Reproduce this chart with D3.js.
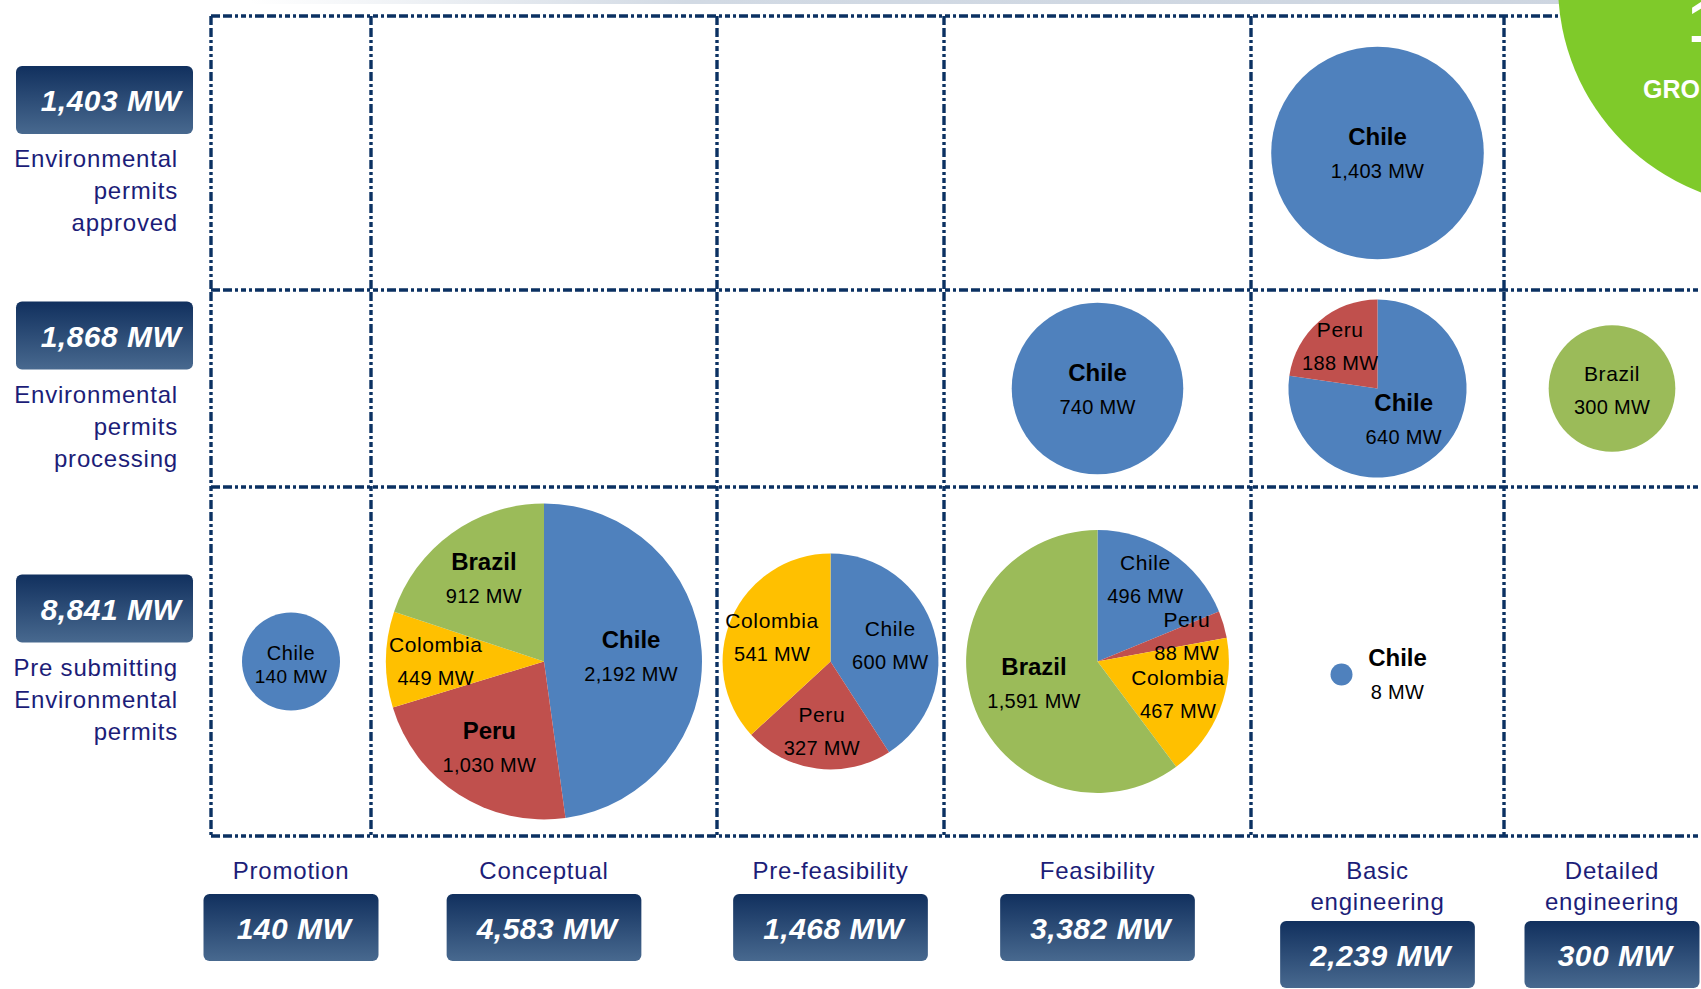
<!DOCTYPE html>
<html>
<head>
<meta charset="utf-8">
<script src="https://cdn.jsdelivr.net/npm/d3@7"></script>
<style>
  html, body { margin: 0; padding: 0; background: #fff; overflow: hidden; }
  svg { display: block; font-family: "Liberation Sans", Arial, sans-serif; }
</style>
</head>
<body>
<svg id="chart" width="1701" height="989"></svg>
<script>
// --- data ---
const stages = ['Promotion', 'Conceptual', 'Pre-feasibility', 'Feasibility', 'Basic engineering', 'Detailed engineering'];
const stageLines = [['Promotion'], ['Conceptual'], ['Pre-feasibility'], ['Feasibility'], ['Basic', 'engineering'], ['Detailed', 'engineering']];
const stageTotals = [140, 4583, 1468, 3382, 2239, 300];

const permitRows = ['approved', 'processing', 'pre submitting'];
const permitLines = [['Environmental', 'permits', 'approved'], ['Environmental', 'permits', 'processing'], ['Pre submitting', 'Environmental', 'permits']];
const permitTotals = [1403, 1868, 8841];

const countries = ['Chile', 'Peru', 'Colombia', 'Brazil'];
// MW per country: one row per permit status, one column per stage
const chileMW    = [[0, 0, 0, 0, 1403, 0], [0, 0, 0, 740, 640, 0], [140, 2192, 600, 496, 8, 0]];
const peruMW     = [[0, 0, 0, 0, 0, 0],    [0, 0, 0, 0, 188, 0],   [0, 1030, 327, 88, 0, 0]];
const colombiaMW = [[0, 0, 0, 0, 0, 0],    [0, 0, 0, 0, 0, 0],     [0, 449, 541, 467, 0, 0]];
const brazilMW   = [[0, 0, 0, 0, 0, 0],    [0, 0, 0, 0, 0, 300],   [0, 912, 0, 1591, 0, 0]];

// labels drawn in bold (row-col-country)
const boldLabels = new Set(['0-4-Chile', '1-3-Chile', '1-4-Chile', '2-1-Brazil', '2-1-Peru', '2-1-Chile', '2-3-Brazil', '2-4-Chile']);

// --- layout ---
const W = 1701, H = 989;
const colEdges = [211, 371, 717, 944, 1251, 1504, 1720];
const rowEdges = [16, 290, 487, 836];
const navy = '#1c1d78';

const svg = d3.select('#chart');

const x = d3.scaleOrdinal().domain(stages)
    .range(stages.map((s, i) => (colEdges[i] + colEdges[i + 1]) / 2));
const y = d3.scaleOrdinal().domain(permitRows)
    .range(permitRows.map((s, i) => (rowEdges[i] + rowEdges[i + 1]) / 2));
const radius = d3.scalePow().exponent(1 / 3).domain([8, 140, 4583]).range([11, 49, 158]);
const color = d3.scaleOrdinal().domain(countries).range(['#4f81bd', '#c0504d', '#ffc000', '#9bbb59']);
const fmt = d3.format(',');

// --- gradients ---
const defs = svg.append('defs');
const boxGrad = defs.append('linearGradient').attr('id', 'boxGrad')
    .attr('x1', 0).attr('y1', 0).attr('x2', 0).attr('y2', 1);
boxGrad.append('stop').attr('offset', '0%').attr('stop-color', '#11305e');
boxGrad.append('stop').attr('offset', '100%').attr('stop-color', '#48698f');

const barGrad = defs.append('linearGradient').attr('id', 'barGrad');
barGrad.append('stop').attr('offset', '0%').attr('stop-color', '#ffffff');
barGrad.append('stop').attr('offset', '30%').attr('stop-color', '#d2dae4');
barGrad.append('stop').attr('offset', '100%').attr('stop-color', '#cdd5e0');

svg.append('rect').attr('x', 250).attr('y', 0).attr('width', W - 250).attr('height', 4)
    .attr('fill', 'url(#barGrad)');

// --- grid ---
const grid = svg.append('g')
    .attr('stroke', '#0b3162').attr('stroke-width', 3.4)
    .attr('stroke-dasharray', '9,3,9,3,3,3,5,3,3,3');

grid.selectAll('line.h').data(rowEdges).join('line').attr('class', 'h')
    .attr('x1', colEdges[0]).attr('x2', colEdges[colEdges.length - 1])
    .attr('y1', d => d).attr('y2', d => d);

grid.selectAll('line.v').data(colEdges.slice(0, -1)).join('line').attr('class', 'v')
    .attr('x1', d => d).attr('x2', d => d)
    .attr('y1', rowEdges[0]).attr('y2', rowEdges[rowEdges.length - 1]);

// --- pies ---
const series = [chileMW, peruMW, colombiaMW, brazilMW];
const cells = [];
permitRows.forEach((row, ri) => stages.forEach((stage, ci) => {
    const slices = countries.map((c, k) => ({ country: c, value: series[k][ri][ci], key: `${ri}-${ci}-${c}` }))
        .filter(d => d.value > 0);
    if (slices.length) cells.push({ row, stage, slices, total: d3.sum(slices, d => d.value) });
}));

const pie = d3.pie().sort(null).value(d => d.value);

cells.forEach(cell => {
    const R = radius(cell.total);
    const tiny = R < 20;
    const cx = x(cell.stage) + (tiny ? -36 : 0);
    const cy = y(cell.row) + (tiny ? 13 : 0);
    const g = svg.append('g').attr('transform', `translate(${cx},${cy})`);

    const arc = d3.arc().innerRadius(0).outerRadius(R);
    const arcs = pie(cell.slices);

    g.selectAll('path').data(arcs).join('path')
        .attr('d', arc)
        .attr('fill', d => color(d.data.country));

    // label anchors: narrow slices push their label further out
    arcs.forEach(a => {
        if (tiny) { a.lx = R + 45; a.ly = -1; return; }
        if (arcs.length === 1) { a.lx = 0; a.ly = 0; return; }
        const share = a.data.value / cell.total;
        const lr = R * (0.72 - 0.35 * share);
        [a.lx, a.ly] = d3.arc().innerRadius(lr).outerRadius(lr).centroid(a);
    });
    // keep stacked labels apart
    const byY = arcs.slice().sort((p, q) => q.ly - p.ly);
    for (let i = 1; i < byY.length; i++) {
        for (let j = 0; j < i; j++) {
            const lo = byY[j], up = byY[i];
            if (Math.abs(lo.lx - up.lx) < 85 && lo.ly - up.ly < 57) up.ly = lo.ly - 57;
        }
    }

    const small = R < 55;
    const labels = g.selectAll('g.lbl').data(arcs).join('g').attr('class', 'lbl')
        .attr('transform', d => `translate(${d.lx},${d.ly})`);

    labels.append('text')
        .attr('text-anchor', 'middle')
        .attr('y', small && !tiny ? -2 : -8)
        .style('font-size', d => boldLabels.has(d.data.key) ? '24px' : (small && !tiny ? '20px' : '21px'))
        .style('font-weight', d => boldLabels.has(d.data.key) ? 'bold' : 'normal')
        .style('letter-spacing', d => boldLabels.has(d.data.key) ? '0px' : '0.6px')
        .attr('fill', '#000')
        .text(d => d.data.country);

    labels.append('text')
        .attr('text-anchor', 'middle')
        .attr('y', small && !tiny ? 21 : 25)
        .style('font-size', small && !tiny ? '19px' : '20px')
        .style('letter-spacing', '0.3px')
        .attr('fill', '#000')
        .text(d => `${fmt(d.data.value)} MW`);
});

// --- row headers (left) ---
const rowG = svg.selectAll('g.rowhead').data(permitRows).join('g').attr('class', 'rowhead')
    .attr('transform', d => `translate(0,${y(d)})`);

rowG.append('rect')
    .attr('x', 16).attr('y', -87).attr('width', 177).attr('height', 68).attr('rx', 6)
    .attr('fill', 'url(#boxGrad)');

rowG.append('text')
    .attr('x', 111).attr('y', -42)
    .attr('text-anchor', 'middle')
    .attr('fill', '#fff')
    .style('font-size', '30px').style('font-weight', 'bold').style('font-style', 'italic')
    .style('letter-spacing', '0.5px')
    .text((d, i) => `${fmt(permitTotals[i])} MW`);

rowG.append('text')
    .attr('text-anchor', 'end')
    .attr('fill', navy)
    .style('font-size', '24px').style('letter-spacing', '0.8px')
    .selectAll('tspan').data((d, i) => permitLines[i]).join('tspan')
    .attr('x', 178)
    .attr('y', (d, i) => 14 + i * 32)
    .text(d => d);

// --- stage headers (bottom) ---
const colG = svg.selectAll('g.colhead').data(stages).join('g').attr('class', 'colhead')
    .attr('transform', d => `translate(${x(d)},0)`);

colG.append('text')
    .attr('text-anchor', 'middle')
    .attr('fill', navy)
    .style('font-size', '24px').style('letter-spacing', '0.8px')
    .selectAll('tspan').data((d, i) => stageLines[i]).join('tspan')
    .attr('x', 0)
    .attr('y', (d, i) => 879 + i * 31)
    .text(d => d);

colG.each(function (d, i) {
    const g = d3.select(this);
    const top = 894 + 27 * (stageLines[i].length - 1);
    const box = g.append('rect').attr('y', top).attr('height', 67).attr('rx', 6)
        .attr('fill', 'url(#boxGrad)');
    const t = g.append('text')
        .attr('x', 3).attr('y', top + 45)
        .attr('text-anchor', 'middle')
        .attr('fill', '#fff')
        .style('font-size', '30px').style('font-weight', 'bold').style('font-style', 'italic')
        .style('letter-spacing', '0.5px')
        .text(`${fmt(stageTotals[i])} MW`);
    const bw = Math.max(175, t.node().getComputedTextLength() + 54);
    box.attr('x', -bw / 2).attr('width', bw);
});

// --- green badge (top right, cut by page edge) ---
svg.append('circle').attr('cx', 1780).attr('cy', -15).attr('r', 222).attr('fill', '#7fca2a');
svg.append('text').attr('x', 1688).attr('y', 42).attr('fill', '#fff')
    .style('font-size', '60px').style('font-weight', 'bold').text('1');
svg.append('text').attr('x', 1643).attr('y', 98).attr('fill', '#fff')
    .style('font-size', '25px').style('font-weight', 'bold').text('GRO');
</script>
</body>
</html>
